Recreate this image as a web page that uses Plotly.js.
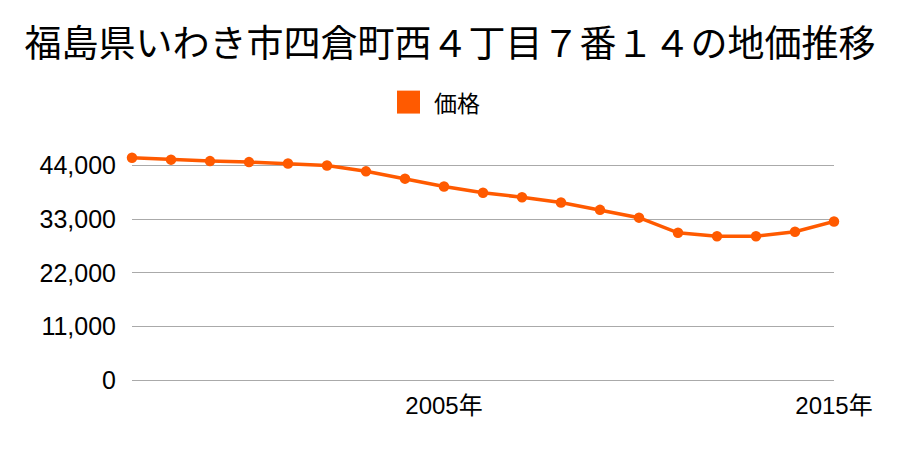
<!DOCTYPE html>
<html>
<head>
<meta charset="utf-8">
<script src="https://cdn.plot.ly/plotly-3.0.1.min.js"></script>
<style>html,body{margin:0;padding:0;background:#fff;}#chart{width:900px;height:450px;}</style>
</head>
<body>
<div id="chart"></div>
<script>
const years = [1997,1998,1999,2000,2001,2002,2003,2004,2005,2006,2007,2008,2009,2010,2011,2012,2013,2014,2015];
const prices = [45600,45200,44900,44700,44400,44000,42800,41300,39700,38400,37500,36400,34900,33300,30200,29500,29500,30400,32500];
const xTickVals = [2005, 2015];
const xTickText = ['2005年', '2015年'];
const yTickVals = [0, 11000, 22000, 33000, 44000];
const seriesName = '価格';
const titleText = '福島県いわき市四倉町西４丁目７番１４の地価推移';

const cjk = '"Noto Sans CJK JP", sans-serif';
const tickFont = '"Liberation Sans", "Noto Sans CJK JP", sans-serif';
const color = '#ff5a00';

// plot area in pixels: x 132..834, y 145.5..380
const L = 132, R = 834, T = 145.5, B = 380;
const px = v => (v - L) / (R - L);
const py = v => (B - v) / (B - T);

Plotly.newPlot('chart', [{
  x: years, y: prices, name: seriesName, type: 'scatter', mode: 'lines+markers',
  line: {color: color, width: 3.5},
  marker: {color: color, size: 10.5},
  cliponaxis: false, showlegend: false
}], {
  width: 900, height: 450,
  paper_bgcolor: '#fff', plot_bgcolor: '#fff',
  font: {family: cjk, color: '#000'},
  margin: {l: L, r: 900 - R, t: T, b: 450 - B},
  title: {text: titleText, x: 0.5, xanchor: 'center', y: 0.902, yanchor: 'middle', font: {size: 37, family: cjk, color: '#000'}},
  showlegend: false,
  shapes: [{type: 'rect', xref: 'paper', yref: 'paper', x0: px(397), x1: px(420), y0: py(113), y1: py(90), fillcolor: color, line: {width: 0}}],
  annotations: [{text: seriesName, xref: 'paper', yref: 'paper', x: px(432), y: py(101.5), xanchor: 'left', yanchor: 'middle', showarrow: false, font: {size: 23, family: cjk, color: '#000'}}],
  xaxis: {range: [1997, 2015], tickvals: xTickVals, ticktext: xTickText, showgrid: false, zeroline: false, showline: false, ticks: '', ticklabelstandoff: 9, tickfont: {size: 24, family: tickFont}},
  yaxis: {range: [0, 48000], tickvals: yTickVals, tickformat: ',', showgrid: true, gridcolor: '#aaaaaa', gridwidth: 1, zeroline: true, zerolinecolor: '#aaaaaa', zerolinewidth: 1, showline: false, ticks: '', ticklabelstandoff: 15, tickfont: {size: 25, family: tickFont}}
}, {displayModeBar: false, staticPlot: true});
</script>
</body>
</html>
